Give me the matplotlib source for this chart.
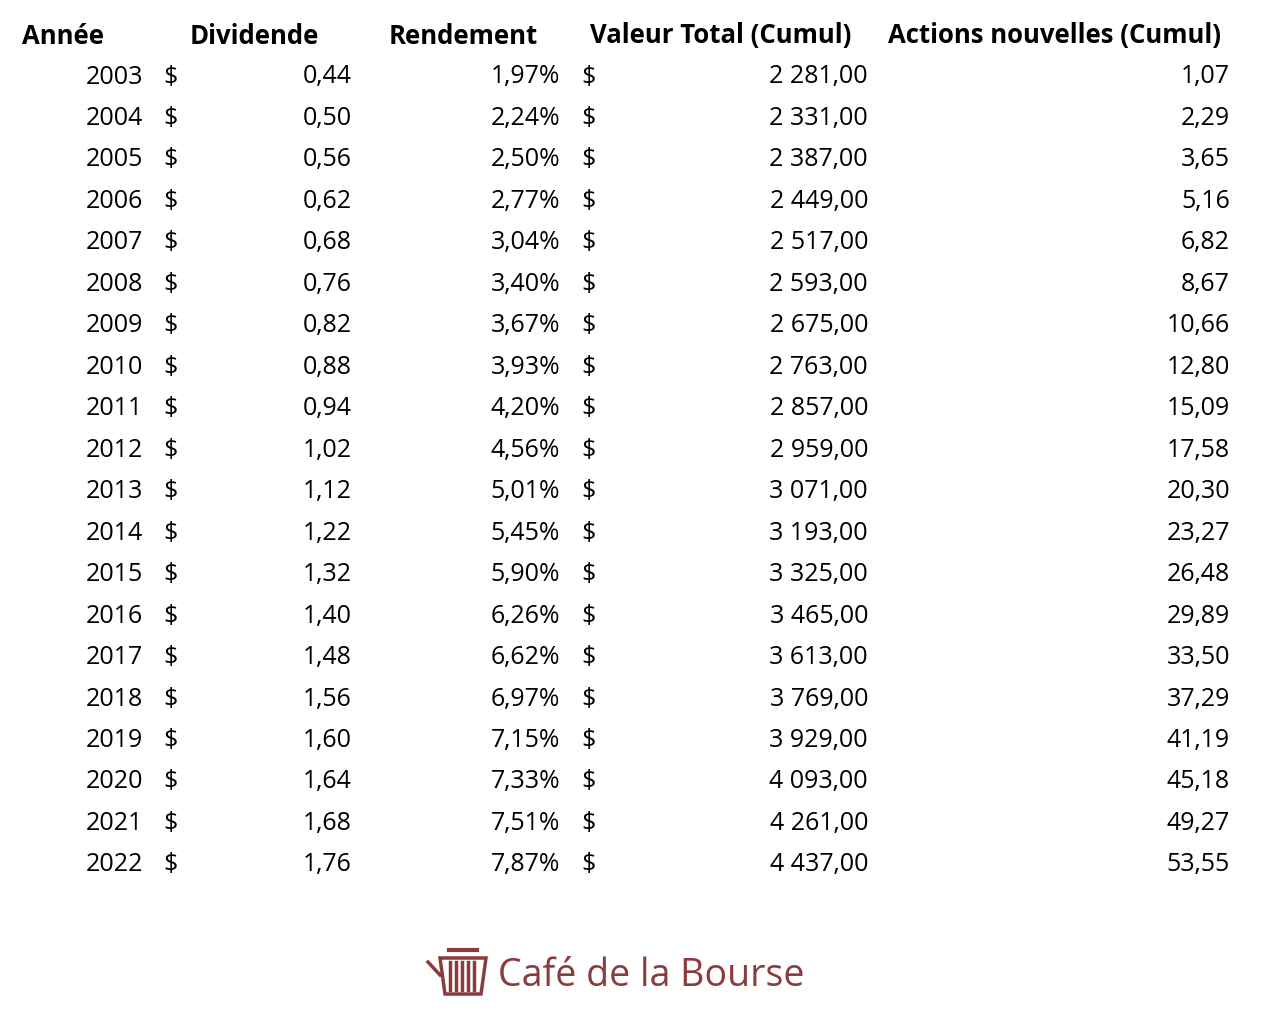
import matplotlib.pyplot as plt
from matplotlib.patches import Polygon

annees = list(range(2003, 2023))
dividende = [0.44, 0.50, 0.56, 0.62, 0.68, 0.76, 0.82, 0.88, 0.94, 1.02,
             1.12, 1.22, 1.32, 1.40, 1.48, 1.56, 1.60, 1.64, 1.68, 1.76]
rendement = [1.97, 2.24, 2.50, 2.77, 3.04, 3.40, 3.67, 3.93, 4.20, 4.56,
             5.01, 5.45, 5.90, 6.26, 6.62, 6.97, 7.15, 7.33, 7.51, 7.87]
valeur = [2281, 2331, 2387, 2449, 2517, 2593, 2675, 2763, 2857, 2959,
          3071, 3193, 3325, 3465, 3613, 3769, 3929, 4093, 4261, 4437]
actions = [1.07, 2.29, 3.65, 5.16, 6.82, 8.67, 10.66, 12.80, 15.09, 17.58,
           20.30, 23.27, 26.48, 29.89, 33.50, 37.29, 41.19, 45.18, 49.27, 53.55]
entetes = ["Année", "Dividende", "Rendement", "Valeur Total (Cumul)", "Actions nouvelles (Cumul)"]

W, H = 1280, 1032
FONT = "Open Sans"
FS = 18


def fr(v, nd=2):
    return f"{v:,.{nd}f}".replace(",", " ").replace(".", ",")


fig = plt.figure(figsize=(W / 100, H / 100), dpi=100)
ax = fig.add_axes([0, 0, 1, 1])
ax.set_xlim(0, W)
ax.set_ylim(H, 0)
ax.axis("off")

hdr_x = [22, 190, 389, 590, 888]
for x, t in zip(hdr_x, entetes):
    ax.text(x, 36, t, fontsize=18.5, fontweight="bold", family=FONT, va="center", ha="left")

for i, a in enumerate(annees):
    y = 77 + i * 41.47
    kw = dict(fontsize=FS, family=FONT, va="center")
    ax.text(143, y, str(a), ha="right", **kw)
    ax.text(163, y, "$", ha="left", **kw)
    ax.text(352, y, fr(dividende[i]), ha="right", **kw)
    ax.text(560, y, fr(rendement[i]) + "%", ha="right", **kw)
    ax.text(581, y, "$", ha="left", **kw)
    ax.text(868, y, fr(valeur[i]), ha="right", **kw)
    ax.text(1230, y, fr(actions[i]), ha="right", **kw)

# logo
red = "#8a3b3b"
ax.add_patch(Polygon([[440, 958], [486, 958], [481, 994], [445, 994]],
                     closed=True, fill=False, edgecolor=red, lw=2.5))
for x in range(450, 480, 6):
    ax.plot([x, x], [962, 990], color=red, lw=2.5)
ax.plot([428, 440], [962, 975], color=red, lw=2.5)
ax.plot([449, 477], [950, 950], color=red, lw=3)
ax.text(498, 976, "Café de la Bourse", fontsize=27, family=FONT, color=red,
        va="center", ha="left")

fig.savefig("out.png", dpi=100)
